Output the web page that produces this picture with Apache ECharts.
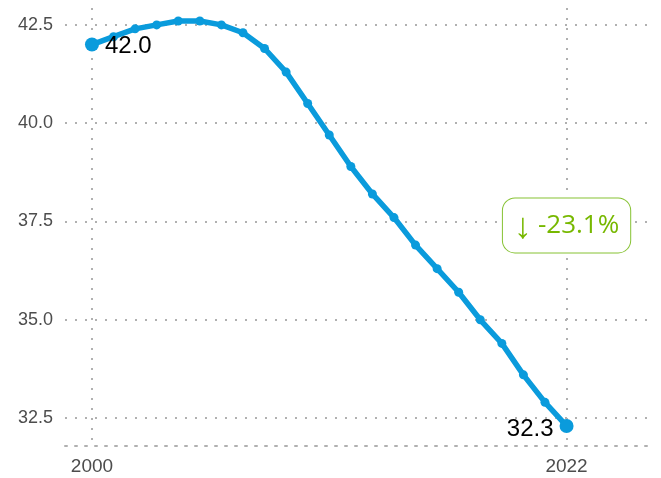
<!DOCTYPE html>
<head>
    <meta charset="utf-8">
    <title>ECharts</title>
    <style>
        html, body { margin: 0; padding: 0; background: #fff; }
        #main { width: 661px; height: 478px; }
    </style>
</head>
<body>
<div id="main"></div>
<script src="https://cdn.jsdelivr.net/npm/echarts@6/dist/echarts.min.js"></script>
<script type="text/javascript">
    // data
    var years = [2000, 2001, 2002, 2003, 2004, 2005, 2006, 2007, 2008, 2009, 2010, 2011,
                 2012, 2013, 2014, 2015, 2016, 2017, 2018, 2019, 2020, 2021, 2022];
    var values = [42.0, 42.2, 42.4, 42.5, 42.6, 42.6, 42.5, 42.3, 41.9, 41.3, 40.5, 39.7,
                  38.9, 38.2, 37.6, 36.9, 36.3, 35.7, 35.0, 34.4, 33.6, 32.9, 32.3];
    var xTicks = [2000, 2022];
    var yTicks = [32.5, 35.0, 37.5, 40.0, 42.5];

    var first = values[0], last = values[values.length - 1];
    var change = (last - first) / first * 100;
    var lastIdx = years.length - 1;

    var gridDots = { color: '#b0b0b0', width: 2, type: [2, 8] };

    var chart = echarts.init(document.getElementById('main'));
    chart.setOption({
        backgroundColor: '#fff',
        animation: false,
        grid: { left: 65, right: 6, top: 8, bottom: 32, containLabel: false },
        xAxis: {
            type: 'value',
            min: 1998.75,
            max: 2026.1,
            axisLine: { show: true, lineStyle: gridDots },
            axisTick: { show: false, customValues: xTicks },
            axisLabel: {
                customValues: xTicks,
                color: '#4d4d4d',
                fontSize: 19,
                fontFamily: 'Liberation Sans',
                margin: 11,
                formatter: function (v) { return String(v); }
            },
            splitLine: { show: true, lineStyle: gridDots }
        },
        yAxis: {
            type: 'value',
            min: 31.79,
            max: 42.93,
            axisLine: { show: false },
            axisTick: { show: false, customValues: yTicks },
            axisLabel: {
                customValues: yTicks,
                color: '#4d4d4d',
                fontSize: 18,
                fontFamily: 'Liberation Sans',
                margin: 12,
                formatter: function (v) { return v.toFixed(1); }
            },
            splitLine: { show: true, lineStyle: gridDots }
        },
        series: [
            {
                type: 'line',
                data: years.map(function (y, i) {
                    var d = { value: [y, values[i]] };
                    if (i === 0) d.label = { show: true, position: 'right', distance: 6, offset: [0, 2] };
                    if (i === lastIdx) d.label = { show: true, position: 'left', distance: 6, offset: [0, 3] };
                    return d;
                }),
                lineStyle: { color: '#0a9bdc', width: 5.5 },
                itemStyle: { color: '#0a9bdc' },
                symbol: 'circle',
                symbolSize: function (v, p) {
                    return (p.dataIndex === 0 || p.dataIndex === lastIdx) ? 14 : 9;
                },
                label: {
                    show: false,
                    fontSize: 24,
                    color: '#000',
                    fontFamily: 'Liberation Sans',
                    formatter: function (p) { return p.value[1].toFixed(1); }
                },
                markPoint: {
                    symbol: 'circle',
                    symbolSize: 0,
                    data: [{
                        coord: [years[lastIdx], 37.4],
                        label: {
                            show: true,
                            position: 'inside',
                            formatter: '{a|↓}{b|' + change.toFixed(1) + '%}',
                            backgroundColor: '#fff',
                            borderColor: '#86c232',
                            borderWidth: 1,
                            borderRadius: 12,
                            padding: [7, 11, 7, 11],
                            rich: {
                                a: { color: '#77b800', fontSize: 36, fontFamily: 'Noto Sans', padding: [4, 0, 0, 0] },
                                b: { color: '#77b800', fontSize: 26, fontFamily: 'Open Sans', padding: [0, 0, 0, 6] }
                            }
                        }
                    }]
                }
            }
        ]
    });
</script>
</body>
